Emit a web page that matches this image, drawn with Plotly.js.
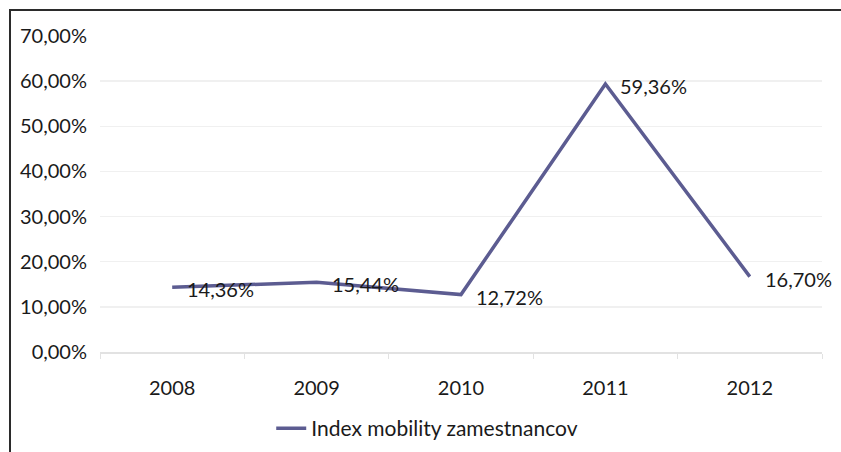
<!DOCTYPE html>
<html>
<head>
<meta charset="utf-8">
<script src="https://cdn.plot.ly/plotly-3.0.1.min.js"></script>
<style>
  html, body { margin: 0; padding: 0; background: #fff; }
  #wrap { position: relative; width: 841px; height: 452px; overflow: hidden; }
  #chart { position: absolute; left: 0; top: 0; width: 841px; height: 452px; }
  #frame { position: absolute; left: 9px; top: 9px; width: 900px; height: 500px;
           border-top: 2px solid #2b2b2b; border-left: 2px solid #2b2b2b; pointer-events: none; }
</style>
</head>
<body>
<div id="wrap">
  <div id="chart"></div>
  <div id="frame"></div>
</div>
<script>
const years = ['2008', '2009', '2010', '2011', '2012'];
const mobilityIndex = [14.36, 15.44, 12.72, 59.36, 16.70];
const seriesName = 'Index mobility zamestnancov';
const yTickValues = [0, 10, 20, 30, 40, 50, 60, 70];
const yTickLabels = ['0,00%', '10,00%', '20,00%', '30,00%', '40,00%', '50,00%', '60,00%', '70,00%'];

const fmt = v => v.toFixed(2).replace('.', ',') + '%';
const FONT = 'Lato, "Open Sans", sans-serif';
const FS = 20;
const lineColor = '#5c5c91';

const trace = {
  type: 'scatter',
  mode: 'lines',
  x: years,
  y: mobilityIndex,
  name: seriesName,
  line: { color: lineColor, width: 3.5 },
  hoverinfo: 'skip'
};

// category axis: annotations positioned by category index
const annotations = years.map((yr, i) => ({
  x: i, y: mobilityIndex[i], xref: 'x', yref: 'y',
  text: fmt(mobilityIndex[i]),
  showarrow: false, xanchor: 'left', yanchor: 'middle',
  xshift: 13, yshift: -2,
  font: { family: FONT, size: FS, color: '#1a1a1a' }
}));

const layout = {
  width: 841, height: 452,
  margin: { l: 100, r: 19, t: 36, b: 100 },
  paper_bgcolor: '#fff', plot_bgcolor: '#fff',
  showlegend: true,
  legend: {
    orientation: 'h', xref: 'container', yref: 'container',
    x: 0.508, xanchor: 'center', y: 0.052, yanchor: 'middle',
    font: { family: FONT, size: FS + 1, color: '#1a1a1a' }
  },
  xaxis: {
    type: 'category',
    range: [-0.5, 4.5],
    automargin: false,
    tickfont: { family: FONT, size: FS, color: '#1a1a1a' },
    showgrid: false,
    showline: true, linecolor: '#e2e2e2', linewidth: 1.5,
    ticks: 'outside', tickson: 'boundaries', ticklen: 5, tickcolor: '#e2e2e2',
    ticklabelstandoff: 17,
    fixedrange: true
  },
  yaxis: {
    range: [0, 70],
    automargin: false,
    tickvals: yTickValues, ticktext: yTickLabels,
    tickfont: { family: FONT, size: FS, color: '#1a1a1a' },
    showgrid: true, gridcolor: '#f0f0f0', gridwidth: 1.5,
    zeroline: false, showline: false,
    ticks: '', ticklabelstandoff: 12,
    fixedrange: true
  },
  annotations: annotations
};

Plotly.newPlot('chart', [trace], layout, { displayModeBar: false, staticPlot: true });
</script>
</body>
</html>
